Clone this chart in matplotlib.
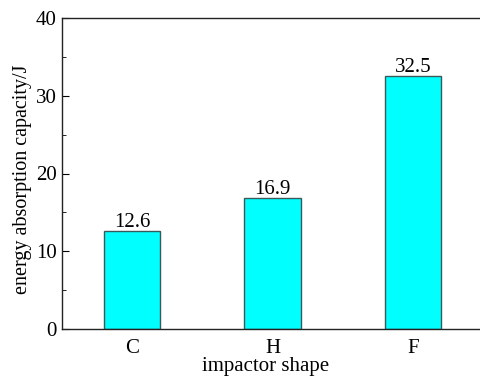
import matplotlib
matplotlib.use("Agg")
import matplotlib.pyplot as plt
from matplotlib.ticker import MultipleLocator

categories = ["C", "H", "F"]
values = [12.6, 16.9, 32.5]
value_labels = ["12.6", "16.9", "32.5"]

plt.rcParams['font.family'] = ['Liberation Serif', 'DejaVu Serif']

fig = plt.figure(figsize=(4.81, 3.77), dpi=100)
W, H = 481, 377
ax = fig.add_axes([62 / W, (H - 329) / H, 421 / W, 311 / H])

x = list(range(len(categories)))
bars = ax.bar(x, values, width=0.4, color="#00FFFF", edgecolor="#3a5a5a", linewidth=1.0)
for xi, v, lab in zip(x, values, value_labels):
    ax.text(xi, v - 0.15, lab, ha="center", va="bottom", fontsize=15)

ax.set_xlim(-0.5, 2.5)
ax.set_ylim(0, 40)
ax.set_xticks(x)
ax.set_xticklabels(categories, fontsize=15)
ax.yaxis.set_major_locator(MultipleLocator(10))
ax.yaxis.set_minor_locator(MultipleLocator(5))
ax.tick_params(axis="y", which="major", direction="in", length=5, labelsize=15, pad=4)
ax.tick_params(axis="y", which="minor", direction="in", length=3)
ax.tick_params(axis="x", which="both", length=0, pad=7)
ax.spines["right"].set_visible(False)
for s in ["left", "bottom", "top"]:
    ax.spines[s].set_linewidth(1.0)
    ax.spines[s].set_color("#222222")
ax.set_ylabel("energy absorption capacity/J", fontsize=14.5)
ax.yaxis.set_label_coords(-30 / 421, 0.48)
ax.set_xlabel("impactor shape", fontsize=15)
ax.xaxis.set_label_coords(0.483, -28 / 311)

fig.savefig("out.png", dpi=100)
